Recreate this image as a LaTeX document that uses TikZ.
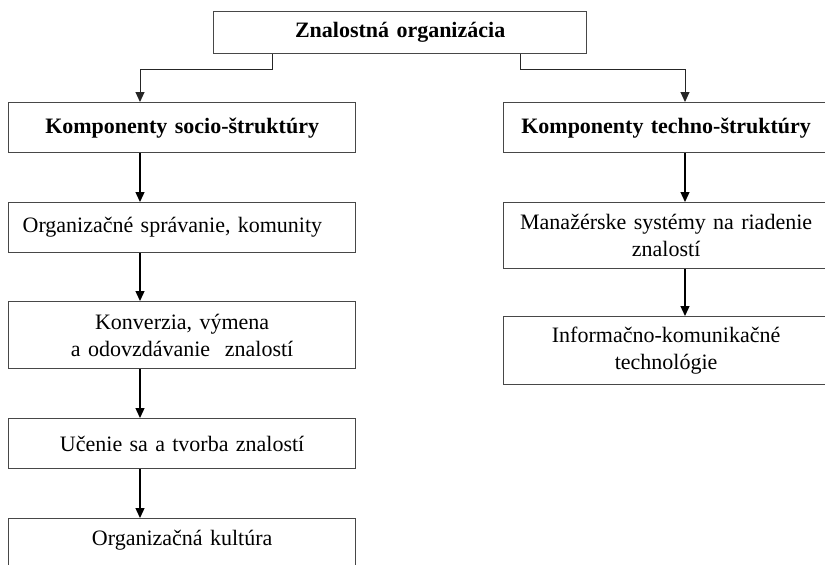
\documentclass[tikz,border=0pt]{standalone}
\usepackage{fontspec}
\setmainfont{Liberation Serif}
\usetikzlibrary{arrows.meta}
\newcommand\regfont{\fontsize{22}{27}\selectfont}
\newcommand\bldfont{\fontsize{22}{27}\selectfont\bfseries}
\tikzset{
  box/.style={draw=black!72, line width=1.3pt, anchor=north west, inner xsep=6pt, inner ysep=0pt, align=center, font=\regfont},
  arr/.style={draw=black, line width=1.3pt, -{Triangle[length=10pt,width=9pt]}},
  conn/.style={draw=black!85, line width=1pt, -{Triangle[length=10pt,width=9pt]}}
}
\begin{document}
\begin{tikzpicture}[x=1pt,y=-1pt]
\clip (0,0) rectangle (825,565);
\fill[white] (0,0) rectangle (825,565);
% top
\node[box, text width=361, minimum height=42, font=\bldfont] (top) at (213,11) {Znalostná organizácia};
% left column
\node[box, text width=335, minimum height=50, font=\bldfont] (k1) at (8,102) {Komponenty socio-štruktúry};
\node[box, text width=319, inner xsep=14pt, align=left, minimum height=50] (s1) at (8,202) {Organizačné správanie, komunity};
\node[box, text width=335, minimum height=67] (s2) at (8,301) {Konverzia, výmena\\a odovzdávanie\ \ znalostí};
\node[box, text width=335, minimum height=50] (s3) at (8,418) {Učenie sa a tvorba znalostí};
\node[box, text width=335, inner ysep=5pt, text height=22pt, text depth=35pt] (s4) at (8,518) {Organizačná kultúra};
% right column
\node[box, text width=313, minimum height=50, font=\bldfont] (k2) at (503,102) {Komponenty techno-štruktúry};
\node[box, text width=313, minimum height=66] (t1) at (503,202) {Manažérske systémy na riadenie\\znalostí};
\node[box, text width=313, minimum height=68] (t2) at (503,316) {Informačno-komunikačné\\technológie};
% connector coordinates
\coordinate (lx) at (140,0);
\coordinate (rx) at (685,0);
\coordinate (lb) at (272,0);
\coordinate (rb) at (520,0);
\coordinate (jy) at (0,69);
\draw[conn] (top.south -| lb) |- (lx |- jy) -- (k1.north -| lx);
\draw[conn] (top.south -| rb) |- (rx |- jy) -- (k2.north -| rx);
\draw[arr] (k1.south -| lx) -- (s1.north -| lx);
\draw[arr] (s1.south -| lx) -- (s2.north -| lx);
\draw[arr] (s2.south -| lx) -- (s3.north -| lx);
\draw[arr] (s3.south -| lx) -- (s4.north -| lx);
\draw[arr] (k2.south -| rx) -- (t1.north -| rx);
\draw[arr] (t1.south -| rx) -- (t2.north -| rx);
\end{tikzpicture}
\end{document}
